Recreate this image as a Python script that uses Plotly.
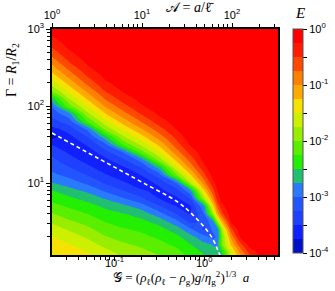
import numpy as np
import plotly.graph_objects as go

# grid of log10(G) (columns) and log10(Gamma) (rows)
log_G_grid = [-1.7, -1.5, -1.3, -1.1, -0.9, -0.7, -0.5, -0.3, -0.15, 0.0, 0.1, 0.15, 0.2, 0.3, 0.4, 0.5, 0.6, 0.85]
log_Gamma_grid = [0.0, 0.1, 0.2, 0.3, 0.4, 0.5, 0.6, 0.7, 0.8, 0.9, 1.0, 1.1, 1.2, 1.3, 1.4, 1.5,
                  1.6, 1.7, 1.8, 1.9, 2.0, 2.1, 2.2, 2.3, 2.4, 2.5, 2.6, 2.7, 2.8, 2.9, 3.0]

# log10(E), one list per G column, from Gamma = 10^0 up to 10^3
logE_columns = [
    [-1.32, -1.37, -1.43, -1.49, -1.63, -1.79, -1.98, -2.16, -2.33, -2.48, -2.73, -2.92, -3.07, -3.18, -3.31, -3.50,
     -3.86, -3.60, -3.34, -3.18, -3.00, -2.65, -1.99, -1.66, -1.37, -1.11, -0.86, -0.64, -0.43, -0.27, -0.18],
    [-1.37, -1.42, -1.48, -1.63, -1.78, -1.96, -2.13, -2.29, -2.45, -2.65, -2.87, -3.07, -3.24, -3.39, -3.54, -3.72,
     -3.58, -3.38, -3.14, -2.82, -2.10, -1.73, -1.43, -1.16, -0.90, -0.66, -0.45, -0.28, -0.18, -0.11, -0.10],
    [-1.44, -1.50, -1.64, -1.78, -1.94, -2.09, -2.25, -2.41, -2.58, -2.80, -3.05, -3.25, -3.42, -3.59, -3.66, -3.47,
     -3.25, -2.96, -2.25, -1.83, -1.50, -1.21, -0.94, -0.69, -0.47, -0.29, -0.18, -0.11, -0.10, -0.10, -0.10],
    [-1.50, -1.66, -1.82, -1.98, -2.12, -2.26, -2.40, -2.55, -2.77, -3.04, -3.27, -3.46, -3.65, -3.57, -3.35, -3.08,
     -2.60, -1.94, -1.58, -1.27, -0.98, -0.72, -0.49, -0.30, -0.18, -0.11, -0.10, -0.10, -0.10, -0.10, -0.10],
    [-1.72, -1.84, -1.96, -2.09, -2.23, -2.36, -2.49, -2.69, -2.98, -3.24, -3.45, -3.66, -3.54, -3.30, -2.99, -2.23,
     -1.79, -1.44, -1.14, -0.85, -0.59, -0.37, -0.22, -0.13, -0.10, -0.10, -0.10, -0.10, -0.10, -0.10, -0.10],
    [-1.78, -1.93, -2.05, -2.18, -2.30, -2.44, -2.61, -2.87, -3.20, -3.46, -3.67, -3.50, -3.25, -2.91, -2.13, -1.69,
     -1.35, -1.03, -0.74, -0.48, -0.28, -0.17, -0.10, -0.10, -0.10, -0.10, -0.10, -0.10, -0.10, -0.10, -0.10],
    [-1.92, -2.05, -2.17, -2.29, -2.42, -2.59, -2.90, -3.23, -3.50, -3.58, -3.43, -3.14, -2.67, -1.92, -1.52, -1.19,
     -0.88, -0.60, -0.37, -0.21, -0.12, -0.10, -0.10, -0.10, -0.10, -0.10, -0.10, -0.10, -0.10, -0.10, -0.10],
    [-2.06, -2.18, -2.31, -2.44, -2.63, -2.95, -3.28, -3.52, -3.54, -3.34, -2.98, -2.03, -1.52, -1.16, -0.85, -0.60,
     -0.40, -0.23, -0.13, -0.10, -0.10, -0.10, -0.10, -0.10, -0.10, -0.10, -0.10, -0.10, -0.10, -0.10, -0.10],
    [-2.25, -2.37, -2.49, -2.66, -2.96, -3.33, -3.51, -3.50, -3.23, -2.81, -1.76, -1.29, -0.92, -0.65, -0.41, -0.21,
     -0.11, -0.10, -0.10, -0.10, -0.10, -0.10, -0.10, -0.10, -0.10, -0.10, -0.10, -0.10, -0.10, -0.10, -0.10],
    [-2.42, -2.53, -2.68, -2.92, -3.30, -3.20, -3.00, -2.77, -1.80, -1.30, -0.87, -0.58, -0.32, -0.17, -0.10, -0.10,
     -0.10, -0.10, -0.10, -0.10, -0.10, -0.10, -0.10, -0.10, -0.10, -0.10, -0.10, -0.10, -0.10, -0.10, -0.10],
    [-2.55, -2.63, -2.77, -3.07, -2.93, -2.80, -1.86, -1.33, -0.90, -0.57, -0.32, -0.15, -0.10, -0.10, -0.10, -0.10,
     -0.10, -0.10, -0.10, -0.10, -0.10, -0.10, -0.10, -0.10, -0.10, -0.10, -0.10, -0.10, -0.10, -0.10, -0.10],
    [-2.60, -2.68, -2.80, -2.95, -2.85, -1.83, -1.07, -0.68, -0.37, -0.24, -0.17, -0.11, -0.10, -0.10, -0.10, -0.10,
     -0.10, -0.10, -0.10, -0.10, -0.10, -0.10, -0.10, -0.10, -0.10, -0.10, -0.10, -0.10, -0.10, -0.10, -0.10],
    [-2.50, -2.52, -2.03, -2.04, -1.79, -1.13, -0.57, -0.30, -0.16, -0.10, -0.10, -0.10, -0.10, -0.10, -0.10, -0.10,
     -0.10, -0.10, -0.10, -0.10, -0.10, -0.10, -0.10, -0.10, -0.10, -0.10, -0.10, -0.10, -0.10, -0.10, -0.10],
    [-1.68, -1.55, -1.22, -0.95, -0.58, -0.21, -0.10, -0.10, -0.10, -0.10, -0.10, -0.10, -0.10, -0.10, -0.10, -0.10,
     -0.10, -0.10, -0.10, -0.10, -0.10, -0.10, -0.10, -0.10, -0.10, -0.10, -0.10, -0.10, -0.10, -0.10, -0.10],
    [-1.15, -0.95, -0.60, -0.25, -0.10, -0.10, -0.10, -0.10, -0.10, -0.10, -0.10, -0.10, -0.10, -0.10, -0.10, -0.10,
     -0.10, -0.10, -0.10, -0.10, -0.10, -0.10, -0.10, -0.10, -0.10, -0.10, -0.10, -0.10, -0.10, -0.10, -0.10],
    [-0.70, -0.45, -0.17, -0.10, -0.10, -0.10, -0.10, -0.10, -0.10, -0.10, -0.10, -0.10, -0.10, -0.10, -0.10, -0.10,
     -0.10, -0.10, -0.10, -0.10, -0.10, -0.10, -0.10, -0.10, -0.10, -0.10, -0.10, -0.10, -0.10, -0.10, -0.10],
    [-0.30, -0.20, -0.10, -0.10, -0.10, -0.10, -0.10, -0.10, -0.10, -0.10, -0.10, -0.10, -0.10, -0.10, -0.10, -0.10,
     -0.10, -0.10, -0.10, -0.10, -0.10, -0.10, -0.10, -0.10, -0.10, -0.10, -0.10, -0.10, -0.10, -0.10, -0.10],
    [-0.10, -0.10, -0.10, -0.10, -0.10, -0.10, -0.10, -0.10, -0.10, -0.10, -0.10, -0.10, -0.10, -0.10, -0.10, -0.10,
     -0.10, -0.10, -0.10, -0.10, -0.10, -0.10, -0.10, -0.10, -0.10, -0.10, -0.10, -0.10, -0.10, -0.10, -0.10],
]

# dashed white curve (G, Gamma)
dash_G = [0.0204, 0.0501, 0.100, 0.212, 0.501, 0.760, 1.07, 1.27, 1.41, 1.51]
dash_Gamma = [44.7, 25.1, 16.2, 10.0, 5.75, 3.80, 2.45, 1.82, 1.38, 1.14]

# band colours, lowest (1e-4) to highest (1)
band_colors = ['#0010C8', '#1020FF', '#2040FF', '#2255FF', '#2A7AFF', '#20C070', '#22F000', '#5AEE00',
               '#99EE00', '#CCF000', '#F5E200', '#FFAA00', '#FF7F00', '#FF4800', '#FF1A00', '#FF0000']

cbar_tickvals = [-4, -3.5, -3, -2.5, -2, -1.5, -1, -0.5, 0]
cbar_ticktext = ['10<sup>-4</sup>', ' ', '10<sup>-3</sup>', ' ', '10<sup>-2</sup>', ' ', '10<sup>-1</sup>', ' ', '10<sup>0</sup>']

G_tickvals = [0.1, 1]
G_ticktext = ['10<sup>-1</sup>', '10<sup>0</sup>']

nb = len(band_colors)
cscale = []
for i, c in enumerate(band_colors):
    cscale.append([i / nb, c])
    cscale.append([(i + 1) / nb, c])

G_vals = [10 ** v for v in log_G_grid]
Gamma_vals = [10 ** v for v in log_Gamma_grid]
z = np.array(logE_columns).T

SANS = 'Liberation Sans, Arial, sans-serif'
SERIF = 'Liberation Serif, DejaVu Serif, serif'

fig = go.Figure()
fig.add_trace(go.Contour(
    x=G_vals, y=Gamma_vals, z=z,
    zmin=-4, zmax=0,
    contours=dict(start=-4, end=0, size=0.25, coloring='fill', showlines=False),
    line=dict(width=0, smoothing=0.6),
    colorscale=cscale,
    colorbar=dict(
        x=(293 - 52) / 226, xanchor='left', xpad=0,
        y=1, yanchor='top', ypad=0, len=0.991, lenmode='fraction',
        thickness=10, outlinewidth=1, outlinecolor='#555555',
        tickmode='array', tickvals=cbar_tickvals, ticktext=cbar_ticktext,
        ticks='outside', ticklen=4, tickwidth=1, tickcolor='black',
        tickfont=dict(family=SANS, size=11, color='black'),
    ),
    hoverinfo='skip',
))
fig.add_trace(go.Scatter(
    x=dash_G, y=dash_Gamma, mode='lines',
    line=dict(color='white', width=1.6, dash='4px,3px', shape='spline'),
    hoverinfo='skip', showlegend=False,
))

x_minor = [0.03, 0.04, 0.05, 0.06, 0.07, 0.08, 0.09, 0.2, 0.3, 0.4, 0.5, 0.6, 0.7, 0.8, 0.9, 2, 3, 4, 5, 6]
y_minor = [2, 3, 4, 5, 6, 7, 8, 9, 20, 30, 40, 50, 60, 70, 80, 90, 200, 300, 400, 500, 600, 700, 800, 900]
a_minor = [2, 3, 4, 5, 6, 7, 8, 9, 20, 30, 40, 50, 60, 70, 80, 90, 200, 300]

axis_common = dict(showline=True, linecolor='black', linewidth=1.5, ticks='outside', ticklen=4,
                   tickwidth=1, tickcolor='black', showgrid=False, zeroline=False, automargin=False,
                   tickfont=dict(family=SANS, size=11, color='black'))

fig.update_layout(
    template='none',
    width=335, height=291,
    margin=dict(l=52, r=57, t=29, b=36, autoexpand=False),
    paper_bgcolor='white', plot_bgcolor='white',
    showlegend=False,
    xaxis=dict(type='log', range=[-1.689, 0.822], mirror=True,
               tickmode='array', tickvals=G_tickvals, showticklabels=False,
               minor=dict(tickmode='array', tickvals=x_minor, ticks='outside', ticklen=3,
                          tickcolor='black', showgrid=False),
               **axis_common),
    xaxis2=dict(type='log', range=[0, 2.511], overlaying='x', side='top', anchor='y',
                tickmode='array', tickvals=[1, 10, 100],
                ticktext=['10<sup>0</sup>', '10<sup>1</sup>', '10<sup>2</sup>'],
                minor=dict(tickmode='array', tickvals=a_minor, ticks='outside', ticklen=3,
                           tickcolor='black', showgrid=False),
                **axis_common),
    yaxis=dict(type='log', range=[0.065, 3.0], mirror=True,
               tickmode='array', tickvals=[10, 100, 1000],
               ticktext=['10<sup>1</sup>', '10<sup>2</sup>', '10<sup>3</sup>'],
               minor=dict(tickmode='array', tickvals=y_minor, ticks='outside', ticklen=3,
                          tickcolor='black', showgrid=False),
               **axis_common),
)

# invisible trace to attach the top axis
fig.add_trace(go.Scatter(x=[1, 100], y=[10, 10], xaxis='x2', yaxis='y', mode='markers',
                         marker=dict(opacity=0), hoverinfo='skip', showlegend=False))

# bottom tick labels placed just below the axis
for tv, tt in zip(G_tickvals, G_ticktext):
    fig.add_annotation(text=tt, xref='x', yref='paper', x=np.log10(tv), y=(255 - 262) / 226,
                       showarrow=False, xanchor='center', yanchor='middle',
                       font=dict(family=SANS, size=11, color='black'))

fig.add_annotation(text='Γ = <i>R</i><sub>1</sub>/<i>R</i><sub>2</sub>', xref='paper', yref='paper',
                   x=(13 - 52) / 226, y=(255 - 70) / 226, textangle=-90, showarrow=False,
                   xanchor='center', yanchor='middle', font=dict(family=SERIF, size=14, color='black'))
fig.add_annotation(text='𝒜 = <i>a</i>/ℓ̄', xref='paper', yref='paper',
                   x=(190 - 52) / 226, y=(255 - 8) / 226, showarrow=False,
                   xanchor='center', yanchor='middle', font=dict(family=SERIF, size=14, color='black'))
fig.add_annotation(text='𝒢 = (<i>ρ</i><sub>ℓ</sub>(<i>ρ</i><sub>ℓ</sub> − <i>ρ</i><sub>g</sub>)<i>g</i>/<i>η</i><sub>g</sub><sup>2</sup>)<sup>1/3</sup>  <i>a</i>',
                   xref='paper', yref='paper',
                   x=(181 - 52) / 226, y=(255 - 278) / 226, showarrow=False,
                   xanchor='center', yanchor='middle', font=dict(family=SERIF, size=13, color='black'))
fig.add_annotation(text='<i>E</i>', xref='paper', yref='paper',
                   x=(300 - 52) / 226, y=(255 - 13) / 226, showarrow=False,
                   xanchor='center', yanchor='middle', font=dict(family=SERIF, size=15, color='black'))

fig.write_html('out.html', config={'displayModeBar': False},
               post_script="document.body.style.margin='0px';document.body.style.padding='0px';")
